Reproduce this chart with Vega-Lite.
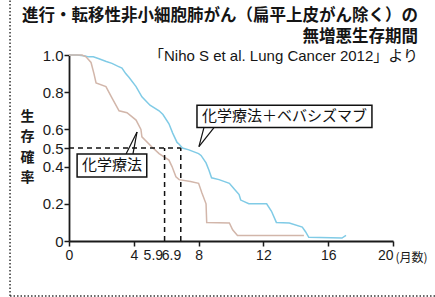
{
  "$schema": "https://vega.github.io/schema/vega-lite/v6.json",
  "width": 324,
  "height": 186,
  "autosize": "none",
  "padding": {"left": 69, "top": 55, "right": 42, "bottom": 56},
  "background": "white",
  "config": {"view": {"stroke": null}, "axis": {"labelOverlap": false}},
  "title": {
    "text": ["進行・転移性非小細胞肺がん（扁平上皮がん除く）の", "無増悪生存期間"],
    "subtitle": "「Niho S et al. Lung Cancer 2012」より",
    "anchor": "end",
    "frame": "group",
    "dx": 25,
    "offset": -66,
    "font": "Noto Sans CJK JP",
    "fontSize": 16.5,
    "fontWeight": "bold",
    "lineHeight": 21,
    "color": "#151515",
    "subtitleFont": "Liberation Sans, Noto Sans CJK JP",
    "subtitleFontSize": 15,
    "subtitleColor": "#151515",
    "subtitlePadding": 4
  },
  "datasets": {
    "curves": [
      {"series": "化学療法＋ベバシズマブ", "x": 0, "y": 1.0},
      {"series": "化学療法＋ベバシズマブ", "x": 0.5, "y": 1.0},
      {"series": "化学療法＋ベバシズマブ", "x": 1.0, "y": 0.995},
      {"series": "化学療法＋ベバシズマブ", "x": 1.2, "y": 0.99},
      {"series": "化学療法＋ベバシズマブ", "x": 1.5, "y": 0.99},
      {"series": "化学療法＋ベバシズマブ", "x": 1.85, "y": 0.98},
      {"series": "化学療法＋ベバシズマブ", "x": 2.3, "y": 0.965},
      {"series": "化学療法＋ベバシズマブ", "x": 2.65, "y": 0.955},
      {"series": "化学療法＋ベバシズマブ", "x": 3.0, "y": 0.94},
      {"series": "化学療法＋ベバシズマブ", "x": 3.27, "y": 0.93},
      {"series": "化学療法＋ベバシズマブ", "x": 3.5, "y": 0.9},
      {"series": "化学療法＋ベバシズマブ", "x": 3.7, "y": 0.88},
      {"series": "化学療法＋ベバシズマブ", "x": 4.14, "y": 0.83},
      {"series": "化学療法＋ベバシズマブ", "x": 4.5, "y": 0.775},
      {"series": "化学療法＋ベバシズマブ", "x": 5.0, "y": 0.73},
      {"series": "化学療法＋ベバシズマブ", "x": 5.56, "y": 0.7},
      {"series": "化学療法＋ベバシズマブ", "x": 5.8, "y": 0.68},
      {"series": "化学療法＋ベバシズマブ", "x": 6.17, "y": 0.63},
      {"series": "化学療法＋ベバシズマブ", "x": 6.4, "y": 0.58},
      {"series": "化学療法＋ベバシズマブ", "x": 6.67, "y": 0.53},
      {"series": "化学療法＋ベバシズマブ", "x": 6.8, "y": 0.52},
      {"series": "化学療法＋ベバシズマブ", "x": 7.0, "y": 0.5},
      {"series": "化学療法＋ベバシズマブ", "x": 7.4, "y": 0.49},
      {"series": "化学療法＋ベバシズマブ", "x": 8.0, "y": 0.47},
      {"series": "化学療法＋ベバシズマブ", "x": 8.15, "y": 0.46},
      {"series": "化学療法＋ベバシズマブ", "x": 8.46, "y": 0.42},
      {"series": "化学療法＋ベバシズマブ", "x": 8.64, "y": 0.38},
      {"series": "化学療法＋ベバシズマブ", "x": 8.8, "y": 0.34},
      {"series": "化学療法＋ベバシズマブ", "x": 9.26, "y": 0.33},
      {"series": "化学療法＋ベバシズマブ", "x": 9.9, "y": 0.31},
      {"series": "化学療法＋ベバシズマブ", "x": 10.2, "y": 0.28},
      {"series": "化学療法＋ベバシズマブ", "x": 10.5, "y": 0.25},
      {"series": "化学療法＋ベバシズマブ", "x": 10.6, "y": 0.22},
      {"series": "化学療法＋ベバシズマブ", "x": 11.1, "y": 0.2},
      {"series": "化学療法＋ベバシズマブ", "x": 12.2, "y": 0.2},
      {"series": "化学療法＋ベバシズマブ", "x": 12.5, "y": 0.16},
      {"series": "化学療法＋ベバシズマブ", "x": 12.8, "y": 0.1},
      {"series": "化学療法＋ベバシズマブ", "x": 13.6, "y": 0.097},
      {"series": "化学療法＋ベバシズマブ", "x": 14.4, "y": 0.075},
      {"series": "化学療法＋ベバシズマブ", "x": 14.6, "y": 0.05},
      {"series": "化学療法＋ベバシズマブ", "x": 14.8, "y": 0.02},
      {"series": "化学療法＋ベバシズマブ", "x": 16.85, "y": 0.016},
      {"series": "化学療法＋ベバシズマブ", "x": 17.1, "y": 0.03},
      {"series": "化学療法", "x": 0, "y": 1.0},
      {"series": "化学療法", "x": 0.8, "y": 1.0},
      {"series": "化学療法", "x": 1.05, "y": 0.99},
      {"series": "化学療法", "x": 1.36, "y": 0.96},
      {"series": "化学療法", "x": 1.54, "y": 0.9},
      {"series": "化学療法", "x": 1.67, "y": 0.85},
      {"series": "化学療法", "x": 2.28, "y": 0.83},
      {"series": "化学療法", "x": 2.65, "y": 0.77},
      {"series": "化学療法", "x": 3.09, "y": 0.7},
      {"series": "化学療法", "x": 3.58, "y": 0.69},
      {"series": "化学療法", "x": 4.14, "y": 0.65},
      {"series": "化学療法", "x": 4.44, "y": 0.6},
      {"series": "化学療法", "x": 4.5, "y": 0.56},
      {"series": "化学療法", "x": 5.12, "y": 0.505},
      {"series": "化学療法", "x": 5.56, "y": 0.47},
      {"series": "化学療法", "x": 6.17, "y": 0.435},
      {"series": "化学療法", "x": 6.36, "y": 0.4},
      {"series": "化学療法", "x": 6.6, "y": 0.345},
      {"series": "化学療法", "x": 6.8, "y": 0.33},
      {"series": "化学療法", "x": 7.5, "y": 0.32},
      {"series": "化学療法", "x": 8.0, "y": 0.31},
      {"series": "化学療法", "x": 8.2, "y": 0.26},
      {"series": "化学療法", "x": 8.46, "y": 0.2},
      {"series": "化学療法", "x": 8.5, "y": 0.1},
      {"series": "化学療法", "x": 9.9, "y": 0.097},
      {"series": "化学療法", "x": 10.1, "y": 0.06},
      {"series": "化学療法", "x": 10.4, "y": 0.03},
      {"series": "化学療法", "x": 14.5, "y": 0.03}
    ],
    "frame": [
      {"x": -3.64, "x2": -3.64, "y": -0.296, "y2": 1.3},
      {"x": -3.64, "x2": 22.6, "y": -0.296, "y2": -0.296}
    ],
    "medians": [
      {"x": 0, "x2": 6.9, "y": 0.5, "y2": 0.5},
      {"x": 5.9, "x2": 5.9, "y": 0, "y2": 0.5},
      {"x": 6.9, "x2": 6.9, "y": 0, "y2": 0.5}
    ],
    "tails": [
      {"x": 3.52, "x2": 4.2, "y": 0.468, "y2": 0.586},
      {"x": 3.95, "x2": 4.2, "y": 0.468, "y2": 0.586},
      {"x": 8.33, "x2": 8.02, "y": 0.61, "y2": 0.507},
      {"x": 8.95, "x2": 8.02, "y": 0.61, "y2": 0.507}
    ],
    "boxes": [
      {"x": 0.5, "x2": 4.8, "y": 0.468, "y2": 0.344},
      {"x": 7.9, "x2": 18.7, "y": 0.73, "y2": 0.61}
    ],
    "labels": [
      {"label": "化学療法", "x": 2.65, "y": 0.406},
      {"label": "化学療法＋ベバシズマブ", "x": 13.3, "y": 0.67}
    ]
  },
  "encoding": {
    "x": {
      "field": "x", "type": "quantitative",
      "scale": {"domain": [0, 20], "nice": false, "zero": false},
      "axis": {
        "values": [0, 4, 5.9, 6.9, 8, 12, 16, 20],
        "labelExpr": "datum.value + ''",
        "labelOverlap": false,
        "labelFont": "Liberation Sans",
        "labelFontSize": 14,
        "labelColor": "#1a1a1a",
        "labelPadding": 2,
        "labelAlign": {"condition": {"test": "datum.value == 5.9 || datum.value == 6.9 || datum.value == 20", "value": "right"}, "value": "center"},
        "labelOffset": {"condition": {"test": "datum.value == 5.9", "value": -2}, "value": 0},
        "labelFlush": false,
        "tickOpacity": {"condition": {"test": "datum.value == 5.9 || datum.value == 6.9", "value": 0}, "value": 1},
        "tickColor": "#1a1a1a",
        "tickSize": 5,
        "tickWidth": 1.5,
        "domainColor": "#1a1a1a",
        "domainWidth": 1.8,
        "grid": false,
        "title": "(月数)",
        "titleFont": "Noto Sans CJK JP",
        "titleFontSize": 12,
        "titleFontWeight": "normal",
        "titleColor": "#1a1a1a",
        "titleAlign": "left",
        "titleAnchor": "start",
        "titleBaseline": "middle",
        "titleX": 326,
        "titleY": 16
      }
    },
    "y": {
      "field": "y", "type": "quantitative",
      "scale": {"domain": [0, 1], "nice": false},
      "axis": {
        "values": [0, 0.2, 0.4, 0.5, 0.6, 0.8, 1],
        "labelExpr": "datum.value == 0 ? '0' : format(datum.value, '.1f')",
        "labelOverlap": false,
        "labelFont": "Liberation Sans",
        "labelFontSize": 15,
        "labelColor": "#1a1a1a",
        "labelPadding": 1,
        "labelFlush": false,
        "tickColor": "#1a1a1a",
        "tickSize": 5,
        "tickWidth": 1.5,
        "domainColor": "#1a1a1a",
        "domainWidth": 1.8,
        "grid": false,
        "title": ["生", "存", "確", "率"],
        "titleAngle": 0,
        "titleFont": "Noto Sans CJK JP",
        "titleFontSize": 14,
        "titleFontWeight": "bold",
        "titleColor": "#1a1a1a",
        "titleAlign": "center",
        "titleBaseline": "top",
        "titleLineHeight": 20.5,
        "titleX": -42,
        "titleY": 54
      }
    }
  },
  "layer": [
    {
      "data": {"name": "curves"},
      "mark": {"type": "line", "strokeWidth": 1.5},
      "encoding": {
        "color": {
          "field": "series", "type": "nominal",
          "scale": {"domain": ["化学療法", "化学療法＋ベバシズマブ"], "range": ["#d2b6aa", "#80cbe6"]},
          "legend": null
        }
      }
    },
    {
      "data": {"name": "frame"},
      "mark": {"type": "rule", "color": "#333", "strokeWidth": 1.5, "strokeDash": [1.5, 2], "clip": false},
      "encoding": {"x2": {"field": "x2"}, "y2": {"field": "y2"}}
    },
    {
      "data": {"name": "medians"},
      "mark": {"type": "rule", "color": "#111", "strokeWidth": 1.5, "strokeDash": [5, 4]},
      "encoding": {"x2": {"field": "x2"}, "y2": {"field": "y2"}}
    },
    {
      "data": {"name": "tails"},
      "mark": {"type": "rule", "color": "#111", "strokeWidth": 1.2},
      "encoding": {"x2": {"field": "x2"}, "y2": {"field": "y2"}}
    },
    {
      "data": {"name": "boxes"},
      "mark": {"type": "rect", "fill": "white", "stroke": "#111", "strokeWidth": 1.5},
      "encoding": {"x2": {"field": "x2"}, "y2": {"field": "y2"}}
    },
    {
      "data": {"name": "labels"},
      "mark": {"type": "text", "font": "Noto Sans CJK JP", "fontSize": 15, "fontWeight": "normal", "color": "#111", "align": "center", "baseline": "middle"},
      "encoding": {"text": {"field": "label"}}
    }
  ]
}
